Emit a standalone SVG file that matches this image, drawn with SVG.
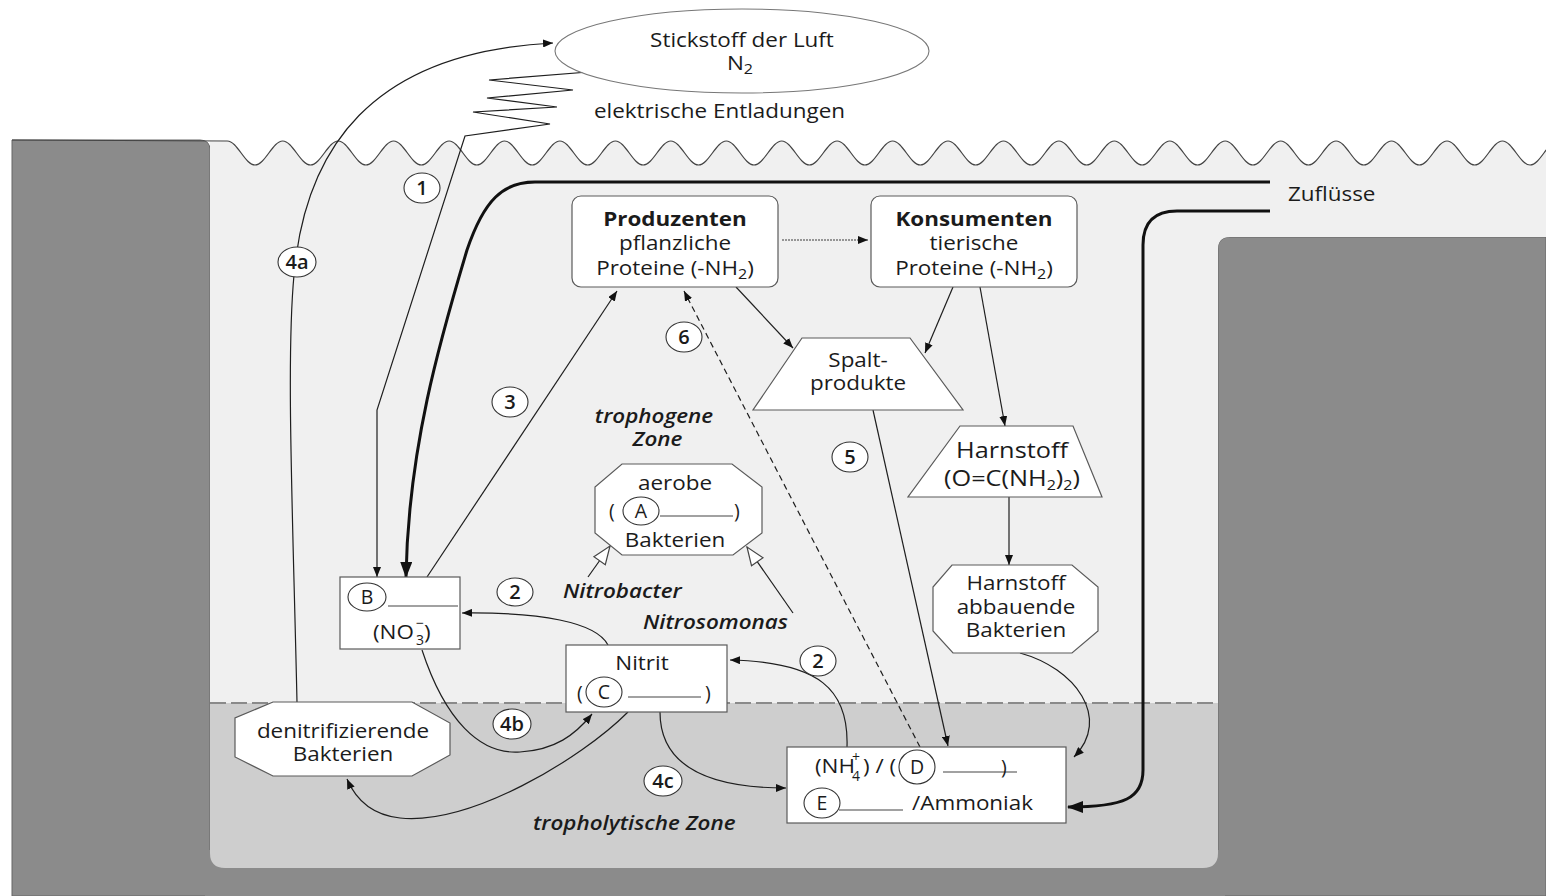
<svg xmlns="http://www.w3.org/2000/svg" width="1546" height="896" viewBox="0 0 1546 896">
<defs>
<style>
.t{font-family:"Open Sans","Noto Sans","DejaVu Sans",sans-serif;font-size:19.5px;fill:#1b1b1b;text-anchor:middle}
.s{text-anchor:start}
.b{font-weight:700}
.it{font-style:italic;font-weight:600}
.big{font-size:22px}
.num{font-size:20px;font-weight:600}
.sub{font-size:14px}
.node{fill:#fff;stroke:#5a5a5a;stroke-width:1.2}
.lbl{fill:#fff;stroke:#333;stroke-width:1.1}
.c{fill:none;stroke:#1e1e1e;stroke-width:1.2}
.thick{fill:none;stroke:#111;stroke-width:3}
.ul{stroke:#444;stroke-width:1.1}
.bank{fill:#8b8b8b;stroke:#666;stroke-width:1}
</style>
<marker id="ah" viewBox="0 0 10 8" refX="10" refY="4" markerWidth="10" markerHeight="8" markerUnits="userSpaceOnUse" orient="auto"><path d="M0,0 L10,4 L0,8 Z" fill="#111"/></marker>
<marker id="ahBig" viewBox="0 0 16 12" refX="15" refY="6" markerWidth="16" markerHeight="12" markerUnits="userSpaceOnUse" orient="auto"><path d="M0,0 L16,6 L0,12 Z" fill="#111"/></marker>
<marker id="ahHollow" viewBox="0 0 20 16" refX="19" refY="8" markerWidth="20" markerHeight="16" markerUnits="userSpaceOnUse" orient="auto"><path d="M1,1 L19,8 L1,15 Z" fill="#fff" stroke="#444" stroke-width="1.2"/></marker>
</defs>

<g id="background">
<rect width="1546" height="896" fill="#fff"/>
<path class="bank" d="M12,140 L200,140 Q210,140 210,150 L210,896 L12,896 Z"/>
<path class="bank" d="M1546,237 L1230,237 Q1218,237 1218,249 L1218,896 L1546,896 Z"/>
<rect x="205" y="850" width="1020" height="46" fill="#8b8b8b"/>
<path fill="#f0f0f0" d="M210,141 L227.3,141 C237.3,141 245,165 255,165 S272.7,141 282.7,141 S300.5,165 310.5,165 S328.2,141 338.2,141 S355.9,165 365.9,165 S383.6,141 393.6,141 S411.3,165 421.3,165 S439.1,141 449.1,141 S466.8,165 476.8,165 S494.5,141 504.5,141 S522.2,165 532.2,165 S549.9,141 559.9,141 S577.7,165 587.7,165 S605.4,141 615.4,141 S633.1,165 643.1,165 S660.8,141 670.8,141 S688.5,165 698.5,165 S716.3,141 726.3,141 S744,165 754,165 S771.7,141 781.7,141 S799.4,165 809.4,165 S827.1,141 837.1,141 S854.9,165 864.9,165 S882.6,141 892.6,141 S910.3,165 920.3,165 S938,141 948,141 S965.7,165 975.7,165 S993.5,141 1003.5,141 S1021.2,165 1031.2,165 S1048.9,141 1058.9,141 S1076.6,165 1086.6,165 S1104.3,141 1114.3,141 S1132.1,165 1142.1,165 S1159.8,141 1169.8,141 S1187.5,165 1197.5,165 S1215.2,141 1225.2,141 S1242.9,165 1252.9,165 S1270.7,141 1280.7,141 S1298.4,165 1308.4,165 S1326.1,141 1336.1,141 S1353.8,165 1363.8,165 S1381.5,141 1391.5,141 S1409.3,165 1419.3,165 S1437,141 1447,141 S1464.7,165 1474.7,165 S1492.4,141 1502.4,141 S1520.1,165 1530.1,165 S1547.8,141 1557.8,141 L1557.8,237 L1230,237 Q1218,237 1218,249 L1218,703 L210,703 Z"/>
<path fill="#cecece" d="M210,703 L1218,703 L1218,853 Q1218,868 1203,868 L225,868 Q210,868 210,853 Z"/>
<line x1="210" y1="703" x2="1218" y2="703" stroke="#8a8a8a" stroke-width="2" stroke-dasharray="16 5"/>
<path fill="none" stroke="#444" stroke-width="1.2" d="M12,140 L227.3,141 C237.3,141 245,165 255,165 S272.7,141 282.7,141 S300.5,165 310.5,165 S328.2,141 338.2,141 S355.9,165 365.9,165 S383.6,141 393.6,141 S411.3,165 421.3,165 S439.1,141 449.1,141 S466.8,165 476.8,165 S494.5,141 504.5,141 S522.2,165 532.2,165 S549.9,141 559.9,141 S577.7,165 587.7,165 S605.4,141 615.4,141 S633.1,165 643.1,165 S660.8,141 670.8,141 S688.5,165 698.5,165 S716.3,141 726.3,141 S744,165 754,165 S771.7,141 781.7,141 S799.4,165 809.4,165 S827.1,141 837.1,141 S854.9,165 864.9,165 S882.6,141 892.6,141 S910.3,165 920.3,165 S938,141 948,141 S965.7,165 975.7,165 S993.5,141 1003.5,141 S1021.2,165 1031.2,165 S1048.9,141 1058.9,141 S1076.6,165 1086.6,165 S1104.3,141 1114.3,141 S1132.1,165 1142.1,165 S1159.8,141 1169.8,141 S1187.5,165 1197.5,165 S1215.2,141 1225.2,141 S1242.9,165 1252.9,165 S1270.7,141 1280.7,141 S1298.4,165 1308.4,165 S1326.1,141 1336.1,141 S1353.8,165 1363.8,165 S1381.5,141 1391.5,141 S1409.3,165 1419.3,165 S1437,141 1447,141 S1464.7,165 1474.7,165 S1492.4,141 1502.4,141 S1520.1,165 1530.1,165 S1547.8,141 1557.8,141"/>
</g>

<g id="connectors">
<polyline class="c" points="601,71 489,80 573,90 487,98 557,107 473,112 550,124 465,136 377,410 377,577" marker-end="url(#ah)"/>
<path class="c" d="M297,702 C293,520 286,360 294,275 C305,150 370,52 553,43" marker-end="url(#ah)"/>
<path class="thick" d="M1270,182 L535,182 C503,182 484,200 467,250 C440,340 408,450 406,577" marker-end="url(#ahBig)"/>
<path class="thick" d="M1270,211 L1177,211 C1155,211 1143,222 1143,245 L1143,770 C1143,798 1125,807 1068,807" marker-end="url(#ahBig)"/>
<line x1="782" y1="240" x2="868" y2="240" stroke="#777" stroke-width="1.4" stroke-dasharray="2 1" marker-end="url(#ah)"/>
<path class="c" d="M427,577 L617,291" marker-end="url(#ah)"/>
<path class="c" d="M920,747 L684,291" stroke-dasharray="6 4" marker-end="url(#ah)"/>
<path class="c" d="M873,410 L948,746" marker-end="url(#ah)"/>
<path class="c" d="M736,287 L793,348" marker-end="url(#ah)"/>
<path class="c" d="M953,287 L925,353" marker-end="url(#ah)"/>
<path class="c" d="M980,287 L1005,426" marker-end="url(#ah)"/>
<path class="c" d="M1009,497 L1009,565" marker-end="url(#ah)"/>
<path class="c" d="M1020,653 C1075,668 1112,718 1074,757" marker-end="url(#ah)"/>
<path class="c" d="M608,645 C596,622 540,612 462,613" marker-end="url(#ah)"/>
<path class="c" d="M847,747 C849,690 820,662 730,660" marker-end="url(#ah)"/>
<path class="c" d="M422,650 C445,720 480,755 520,752 C555,750 575,735 592,714" marker-end="url(#ah)"/>
<path class="c" d="M628,712 C580,760 470,825 400,818 C372,815 356,800 347,779" marker-end="url(#ah)"/>
<path class="c" d="M660,712 C660,762 700,788 786,788" marker-end="url(#ah)"/>
<path class="c" d="M588,577 L610,546" marker-end="url(#ahHollow)"/>
<path class="c" d="M793,613 L747,547" marker-end="url(#ahHollow)"/>
</g>

<g id="n2">
<ellipse cx="742" cy="51" rx="187" ry="42" fill="#fff" stroke="#777" stroke-width="1.1"/>
<g transform="translate(742,47) scale(1.15,1)"><text class="t">Stickstoff der Luft</text></g>
<g transform="translate(740,70) scale(1.15,1)"><text class="t">N<tspan class="sub" dy="4">2</tspan></text></g>
</g>

<g id="entladungen"><g transform="translate(594,118) scale(1.15,1)"><text class="t s">elektrische Entladungen</text></g></g>
<g id="zufluesse"><g transform="translate(1288,201) scale(1.15,1)"><text class="t s">Zuflüsse</text></g></g>

<g id="produzenten">
<rect x="572" y="196" width="206" height="91" rx="9" class="node"/>
<g transform="translate(675,0) scale(1.15,1)">
<text class="t b" y="226">Produzenten</text>
<text class="t" y="250">pflanzliche</text>
<text class="t" y="275">Proteine (-NH<tspan class="sub" dy="4">2</tspan><tspan dy="-4">)</tspan></text>
</g>
</g>

<g id="konsumenten">
<rect x="871" y="196" width="206" height="91" rx="9" class="node"/>
<g transform="translate(974,0) scale(1.15,1)">
<text class="t b" y="226">Konsumenten</text>
<text class="t" y="250">tierische</text>
<text class="t" y="275">Proteine (-NH<tspan class="sub" dy="4">2</tspan><tspan dy="-4">)</tspan></text>
</g>
</g>

<g id="spaltprodukte">
<polygon points="802,338 910,338 963,410 753,410" class="node"/>
<g transform="translate(858,0) scale(1.15,1)">
<text class="t" y="367">Spalt-</text>
<text class="t" y="390">produkte</text>
</g>
</g>

<g id="harnstoff">
<polygon points="960,426 1073,426 1102,497 908,497" class="node"/>
<g transform="translate(1012,0) scale(1.15,1)">
<text class="t big" y="458">Harnstoff</text>
<text class="t big" y="486">(O=C(NH<tspan class="sub" dy="4">2</tspan><tspan dy="-4">)</tspan><tspan class="sub" dy="4">2</tspan><tspan dy="-4">)</tspan></text>
</g>
</g>

<g id="harnstoff-bakterien">
<polygon points="952,565 1072,565 1098,587 1098,631 1072,653 953,653 933,631 933,587" class="node"/>
<g transform="translate(1016,0) scale(1.15,1)">
<text class="t" y="590">Harnstoff</text>
<text class="t" y="614">abbauende</text>
<text class="t" y="637">Bakterien</text>
</g>
</g>

<g id="aerobe">
<polygon points="622,464 732,464 762,487 762,533 733,555 622,555 595,533 595,487" class="node"/>
<g transform="translate(675,0) scale(1.15,1)">
<text class="t" y="490">aerobe</text>
<text class="t" y="547">Bakterien</text>
</g>
<text class="t s" x="609" y="518">(</text>
<ellipse cx="641" cy="511" rx="18" ry="14" class="lbl"/>
<text class="t" x="641" y="518">A</text>
<line x1="660" y1="516" x2="733" y2="516" class="ul"/>
<text class="t s" x="734" y="518">)</text>
</g>

<g id="zone-labels">
<g transform="translate(654,0) scale(1.15,1)">
<text class="t it" y="423">trophogene</text>
<text class="t it" x="3" y="446">Zone</text>
</g>
<g transform="translate(563,598) scale(1.15,1)"><text class="t it s">Nitrobacter</text></g>
<g transform="translate(643,629) scale(1.15,1)"><text class="t it s">Nitrosomonas</text></g>
<g transform="translate(533,830) scale(1.15,1)"><text class="t it s">tropholytische Zone</text></g>
</g>

<g id="nitrat">
<rect x="340" y="577" width="120" height="72" class="node"/>
<ellipse cx="367" cy="597" rx="19" ry="14" class="lbl"/>
<text class="t" x="367" y="604">B</text>
<line x1="388" y1="606" x2="458" y2="606" class="ul"/>
<g transform="translate(373,639) scale(1.15,1)"><text class="t s">(NO</text></g>
<text class="t s sub" x="416" y="645">3</text>
<text class="t s sub" x="416" y="628">−</text>
<g transform="translate(424,639) scale(1.15,1)"><text class="t s">)</text></g>
</g>

<g id="nitrit">
<rect x="566" y="645" width="161" height="67" class="node"/>
<g transform="translate(642,670) scale(1.15,1)"><text class="t">Nitrit</text></g>
<text class="t s" x="577" y="700">(</text>
<ellipse cx="604" cy="692" rx="18" ry="15" class="lbl"/>
<text class="t" x="604" y="699">C</text>
<line x1="628" y1="697" x2="701" y2="697" class="ul"/>
<text class="t s" x="705" y="700">)</text>
</g>

<g id="ammonium">
<rect x="787" y="747" width="279" height="76" class="node"/>
<g transform="translate(815,773) scale(1.15,1)"><text class="t s">(NH</text></g>
<text class="t s sub" x="852" y="781">4</text>
<text class="t s sub" x="852" y="762">+</text>
<g transform="translate(863,773) scale(1.15,1)"><text class="t s">) / (</text></g>
<ellipse cx="917" cy="767" rx="18" ry="17" class="lbl"/>
<text class="t" x="917" y="774">D</text>
<line x1="943" y1="772" x2="1017" y2="772" class="ul"/>
<text class="t s" x="1001" y="774">)</text>
<ellipse cx="822" cy="803" rx="18" ry="15" class="lbl"/>
<text class="t" x="822" y="810">E</text>
<line x1="839" y1="810" x2="903" y2="810" class="ul"/>
<g transform="translate(912,810) scale(1.15,1)"><text class="t s">/Ammoniak</text></g>
</g>

<g id="denitrifizierende">
<polygon points="273,702 412,702 450,723 450,755 412,776 273,776 235,757 235,718" class="node"/>
<g transform="translate(343,0) scale(1.15,1)">
<text class="t" y="738">denitrifizierende</text>
<text class="t" y="761">Bakterien</text>
</g>
</g>

<g id="step-labels">
<ellipse cx="422" cy="188" rx="18" ry="15" class="lbl"/><text class="t num" x="422" y="195">1</text>
<ellipse cx="297" cy="262" rx="19" ry="15" class="lbl"/><text class="t num" x="297" y="269">4a</text>
<ellipse cx="510" cy="402" rx="18" ry="15" class="lbl"/><text class="t num" x="510" y="409">3</text>
<ellipse cx="684" cy="337" rx="18" ry="15" class="lbl"/><text class="t num" x="684" y="344">6</text>
<ellipse cx="850" cy="457" rx="18" ry="15" class="lbl"/><text class="t num" x="850" y="464">5</text>
<ellipse cx="515" cy="592" rx="18" ry="14" class="lbl"/><text class="t num" x="515" y="599">2</text>
<ellipse cx="818" cy="661" rx="18" ry="15" class="lbl"/><text class="t num" x="818" y="668">2</text>
<ellipse cx="512" cy="724" rx="19" ry="15" class="lbl"/><text class="t num" x="512" y="731">4b</text>
<ellipse cx="663" cy="781" rx="19" ry="15" class="lbl"/><text class="t num" x="663" y="788">4c</text>
</g>
</svg>
